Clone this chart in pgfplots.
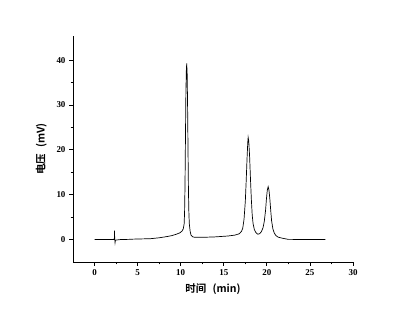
\documentclass[border=0pt]{standalone}
\usepackage{pgfplots}
\pgfplotsset{compat=1.18}
\usepackage{fontspec}
\setmainfont{Liberation Serif}
\newfontfamily\cjk{Noto Sans CJK SC Bold}
\begin{document}
\begin{tikzpicture}
\path (-73bp,-55bp) rectangle (340bp,262bp);
\begin{axis}[
  at={(0,0)}, anchor=south west,
  scale only axis, width=280bp, height=226bp,
  xmin=-2.5, xmax=30, ymin=-5, ymax=45.4,
  axis x line=bottom, axis y line=left,
  axis line style={-, line width=0.9pt},
  tick align=outside, tick style={line width=0.8pt, black},
  major tick length=4bp, minor tick length=2.5bp,
  xtick={0,5,...,30}, ytick={0,10,...,40},
  minor x tick num=1, minor y tick num=1,
  tick label style={font=\bfseries\fontsize{9}{10}\selectfont},
  /pgf/number format/assume math mode=true,
  xlabel={\cjk\fontsize{10.5}{12}\selectfont 时间\hspace{0.6em}(min)},
  ylabel={\cjk\fontsize{10.5}{12}\selectfont 电压\hspace{0.6em}(mV)},
  xlabel style={yshift=-1bp},
  ylabel style={yshift=3bp},
]
\addplot[black, line width=0.7pt] coordinates {
(0,0) (1,0) (2,0) (2.25,0) (2.3,0.3) (2.32,2.0) (2.34,0.2) (2.38,-0.7) (2.42,-0.2) (2.5,-0.1) (3,0) (4,0.05)
(4.5,0.1) (5.5,0.15) (6.5,0.2) (7.5,0.4) (8.5,0.7) (9,0.9) (9.5,1.2) (9.9,1.5) (10.15,1.9) (10.3,2.4)
(10.4,3.5) (10.45,6) (10.5,12) (10.55,22) (10.6,32) (10.65,37.5) (10.7,39.3) (10.75,37) (10.8,30)
(10.85,20) (10.9,11) (10.95,6) (11.0,3.5) (11.1,1.8) (11.2,1.0) (11.4,0.6) (11.7,0.5) (12.5,0.5)
(14,0.6) (15.5,0.8) (16.3,1.0) (16.8,1.3) (17.05,1.8) (17.2,2.5) (17.35,4.5) (17.5,8.5) (17.6,13)
(17.7,18) (17.78,21.5) (17.83,22.8) (17.9,22) (18.0,18.5) (18.1,13.5) (18.2,9) (18.3,5.5) (18.4,3.6)
(18.55,2.2) (18.75,1.5) (18.95,1.2) (19.15,1.3) (19.35,1.7) (19.55,2.6) (19.7,4) (19.85,6.5)
(19.95,9) (20.05,11) (20.15,11.8) (20.25,11) (20.35,9) (20.45,6.5) (20.55,4.2) (20.7,2.4)
(20.85,1.5) (21.05,0.9) (21.3,0.55) (21.7,0.35) (22.2,0.15) (22.5,0.05) (24,0.02) (26.8,0.02)
};
\end{axis}
\end{tikzpicture}
\end{document}
